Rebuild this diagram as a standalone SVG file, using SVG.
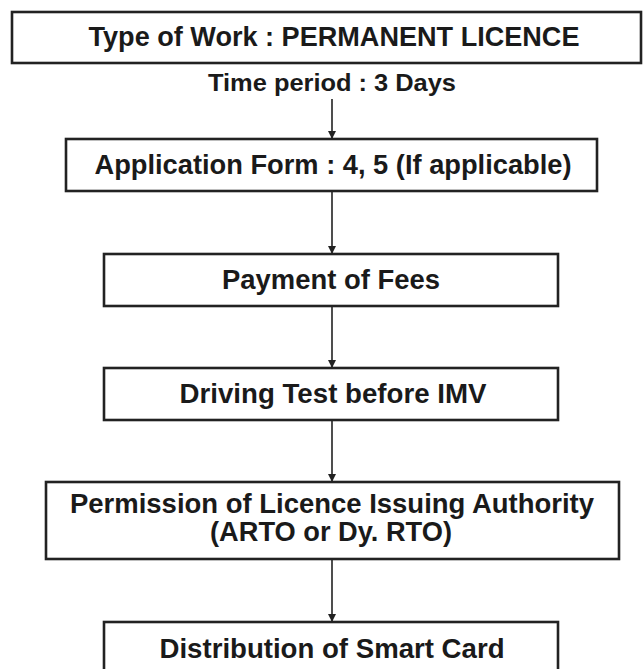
<svg xmlns="http://www.w3.org/2000/svg" width="643" height="669" viewBox="0 0 643 669">
<defs>
<style>
.box{fill:#fff;stroke:#222;stroke-width:2.6}
.t{font-family:"Liberation Sans",Arial,sans-serif;font-weight:bold;font-size:27px;fill:#1a1a1a;text-anchor:middle}
.c{stroke:#222;stroke-width:1.6;fill:none}
</style>
<marker id="ah" markerWidth="8" markerHeight="10" refX="7" refY="5" orient="auto" markerUnits="userSpaceOnUse">
<path d="M0,1 L8,5 L0,9 Z" fill="#222"/>
</marker>
</defs>
<rect width="643" height="669" fill="#fff"/>
<g id="type-of-work">
<rect class="box" x="12" y="12" width="629" height="51"/>
<text class="t" x="334" y="46" textLength="491" lengthAdjust="spacingAndGlyphs">Type of Work : PERMANENT LICENCE</text>
</g>
<g id="time-period">
<text class="t" x="332" y="91" style="font-size:24px" textLength="248" lengthAdjust="spacingAndGlyphs">Time period : 3 Days</text>
</g>
<g id="application-form">
<rect class="box" x="66" y="139" width="531" height="52"/>
<text class="t" x="333" y="174" textLength="477" lengthAdjust="spacingAndGlyphs">Application Form : 4, 5 (If applicable)</text>
</g>
<g id="payment">
<rect class="box" x="104" y="254" width="454" height="52"/>
<text class="t" x="331" y="289" textLength="218" lengthAdjust="spacingAndGlyphs">Payment of Fees</text>
</g>
<g id="driving-test">
<rect class="box" x="104" y="368" width="454" height="52"/>
<text class="t" x="333" y="403" textLength="307" lengthAdjust="spacingAndGlyphs">Driving Test before IMV</text>
</g>
<g id="permission">
<rect class="box" x="46" y="482" width="573" height="77"/>
<text class="t" x="332" y="513" textLength="524" lengthAdjust="spacingAndGlyphs">Permission of Licence Issuing Authority</text>
<text class="t" x="331" y="541" textLength="242" lengthAdjust="spacingAndGlyphs">(ARTO or Dy. RTO)</text>
</g>
<g id="distribution">
<rect class="box" x="104" y="622" width="454" height="60"/>
<text class="t" x="332" y="658" textLength="345" lengthAdjust="spacingAndGlyphs">Distribution of Smart Card</text>
</g>
<g id="connectors">
<line class="c" x1="332" y1="99" x2="332" y2="138" marker-end="url(#ah)"/>
<line class="c" x1="332" y1="192" x2="332" y2="253" marker-end="url(#ah)"/>
<line class="c" x1="332" y1="307" x2="332" y2="367" marker-end="url(#ah)"/>
<line class="c" x1="332" y1="421" x2="332" y2="481" marker-end="url(#ah)"/>
<line class="c" x1="332" y1="560" x2="332" y2="621" marker-end="url(#ah)"/>
</g>
</svg>
